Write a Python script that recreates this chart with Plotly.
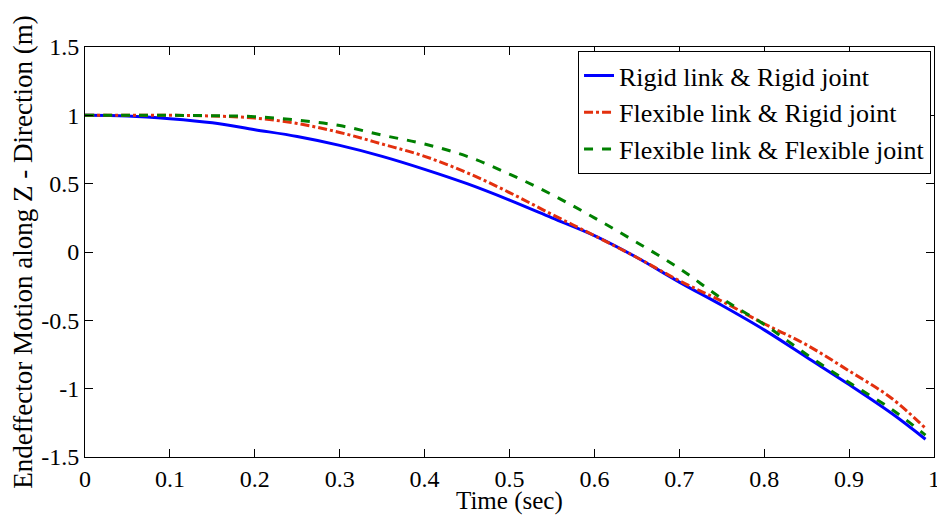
import plotly.graph_objects as go

time_s = [0, 0.05, 0.1, 0.15, 0.2, 0.25, 0.3, 0.35, 0.4, 0.45, 0.5, 0.55, 0.6,
          0.65, 0.7, 0.75, 0.8, 0.85, 0.9, 0.95, 0.99]
rigid_rigid = [1.0, 0.995, 0.975, 0.945, 0.895, 0.845, 0.78, 0.70, 0.605, 0.50, 0.38,
               0.25, 0.12, -0.04, -0.22, -0.39, -0.57, -0.77, -0.97, -1.18, -1.37]
flex_rigid = [1.0, 1.0, 1.0, 0.995, 0.98, 0.94, 0.875, 0.79, 0.70, 0.58, 0.435,
              0.275, 0.12, -0.04, -0.21, -0.36, -0.525, -0.68, -0.87, -1.07, -1.29]
flex_flex = [1.0, 1.0, 1.0, 0.997, 0.99, 0.965, 0.925, 0.855, 0.79, 0.70, 0.57,
             0.42, 0.25, 0.07, -0.12, -0.34, -0.53, -0.75, -0.955, -1.15, -1.34]

names = ["Rigid link & Rigid joint", "Flexible link & Rigid joint",
         "Flexible link & Flexible joint"]
x_ticks = [0, 0.1, 0.2, 0.3, 0.4, 0.5, 0.6, 0.7, 0.8, 0.9, 1]
x_tick_labels = ["0", "0.1", "0.2", "0.3", "0.4", "0.5", "0.6", "0.7", "0.8", "0.9", "1"]
y_ticks = [-1.5, -1, -0.5, 0, 0.5, 1, 1.5]
y_tick_labels = ["-1.5", "-1", "-0.5", "0", "0.5", "1", "1.5"]
x_title = "Time (sec)"
y_title = "Endeffector Motion along Z - Direction (m)"

FONT = "Liberation Serif"

fig = go.Figure()
fig.add_trace(go.Scatter(x=time_s, y=rigid_rigid, mode="lines", name=names[0],
                         line=dict(color="#0000ff", width=3, shape="spline")))
fig.add_trace(go.Scatter(x=time_s, y=flex_rigid, mode="lines", name=names[1],
                         line=dict(color="#e3300e", width=3, dash="dashdot", shape="spline")))
fig.add_trace(go.Scatter(x=time_s, y=flex_flex, mode="lines", name=names[2],
                         line=dict(color="#008000", width=3, dash="dash", shape="spline")))

axis_common = dict(showline=True, linecolor="black", linewidth=1, mirror="ticks",
                   ticks="inside", ticklen=8, tickcolor="black", showgrid=False,
                   zeroline=False, tickfont=dict(family=FONT, size=24, color="black"))

fig.update_xaxes(range=[0, 1], tickvals=x_ticks, ticktext=x_tick_labels,
                 ticklabeloverflow="allow", **axis_common)
fig.update_yaxes(range=[-1.5, 1.5], tickvals=y_ticks, ticktext=y_tick_labels,
                 title=dict(text=y_title,
                            font=dict(family=FONT, size=27, color="black"), standoff=2),
                 **axis_common)

fig.add_annotation(text=x_title, xref="paper", yref="paper", x=0.5, y=-0.107,
                   xanchor="center", yanchor="middle", showarrow=False,
                   font=dict(family=FONT, size=25, color="black"))

# page body has an 8px default margin; compensate so the plot area lands as in the reference
fig.update_layout(
    width=937, height=509,
    margin=dict(l=77, r=5, t=39, b=60),
    paper_bgcolor="white", plot_bgcolor="white",
    font=dict(family=FONT, color="black"),
    legend=dict(x=0.9965, y=0.99, xanchor="right", yanchor="top",
                bordercolor="black", borderwidth=1, bgcolor="white",
                font=dict(family=FONT, size=26, color="black"),
                tracegroupgap=0, itemwidth=30),
    showlegend=True,
)

fig.write_html("out.html")
